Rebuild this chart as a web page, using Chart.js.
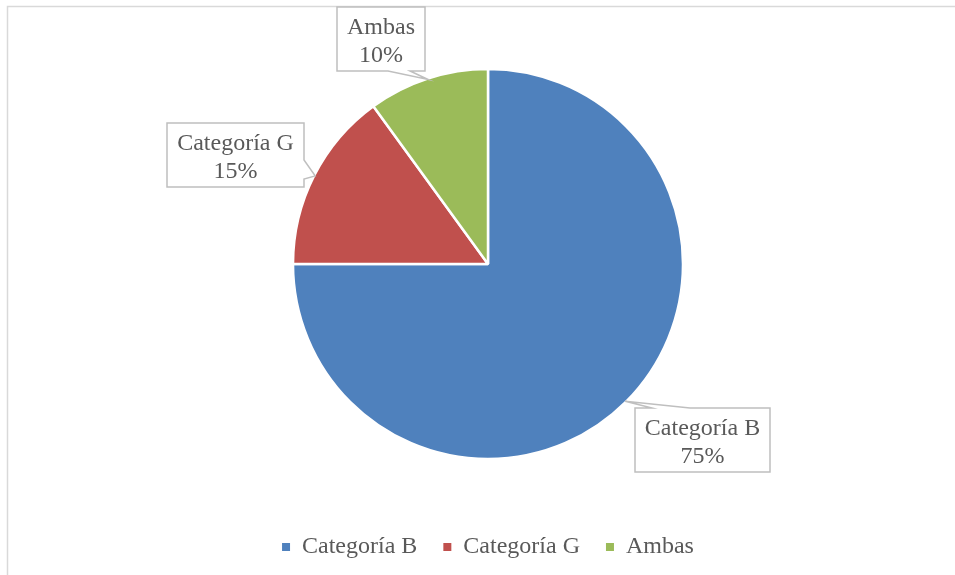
<!DOCTYPE html>
<html>
<head>
<meta charset="utf-8">
<script src="https://cdn.jsdelivr.net/npm/chart.js@4"></script>
<style>
  html, body { margin: 0; padding: 0; background: #fff; }
  #wrap { width: 955px; height: 575px; }
</style>
</head>
<body>
<div id="wrap"><canvas id="pieChart" width="955" height="575"></canvas></div>
<script>
const categories = ["Categoría B", "Categoría G", "Ambas"];
const shares = [75, 15, 10];
const sliceColors = ["#4F81BD", "#C0504D", "#9BBB59"];

const FONT = "'Liberation Serif', 'Times New Roman', serif";
const TEXT_COLOR = "#595959";

// callout box placement: top-left corner, which edge the pointer leaves from, and the base span on that edge
const callouts = [
  { x: 635, y: 408, edge: "top", a: 652, b: 690 },
  { x: 167, y: 123, edge: "right", a: 160, b: 179 },
  { x: 337, y: 7, edge: "bottom", a: 388, b: 410 },
];

const frame = {
  id: "frame",
  beforeDraw(chart) {
    const ctx = chart.ctx;
    ctx.save();
    ctx.strokeStyle = "#d9d9d9";
    ctx.lineWidth = 1.5;
    ctx.beginPath();
    ctx.moveTo(7.5, 600);
    ctx.lineTo(7.5, 6.5);
    ctx.lineTo(960, 6.5);
    ctx.stroke();
    ctx.restore();
  },
};

const calloutLabels = {
  id: "calloutLabels",
  afterDatasetsDraw(chart) {
    const ctx = chart.ctx;
    const arcs = chart.getDatasetMeta(0).data;
    ctx.save();
    ctx.font = "24px " + FONT;
    arcs.forEach((arc, i) => {
      const p = arc.getProps(["x", "y", "startAngle", "endAngle", "outerRadius"], true);
      const mid = (p.startAngle + p.endAngle) / 2;
      const tx = p.x + (p.outerRadius - 1) * Math.cos(mid);
      const ty = p.y + (p.outerRadius - 1) * Math.sin(mid);
      const line1 = categories[i];
      const line2 = shares[i] + "%";
      const w = Math.round(ctx.measureText(line1).width) + 20;
      const h = 64;
      const c = callouts[i];
      const L = c.x, T = c.y, R = c.x + w, B = c.y + h;
      ctx.beginPath();
      ctx.moveTo(L, T);
      if (c.edge === "top") {
        ctx.lineTo(c.a, T); ctx.lineTo(tx, ty); ctx.lineTo(c.b, T);
      }
      ctx.lineTo(R, T);
      if (c.edge === "right") {
        ctx.lineTo(R, c.a); ctx.lineTo(tx, ty); ctx.lineTo(R, c.b);
      }
      ctx.lineTo(R, B);
      if (c.edge === "bottom") {
        ctx.lineTo(c.b, B); ctx.lineTo(tx, ty); ctx.lineTo(c.a, B);
      }
      ctx.lineTo(L, B);
      ctx.closePath();
      ctx.fillStyle = "#ffffff";
      ctx.fill();
      ctx.strokeStyle = "#bfbfbf";
      ctx.lineWidth = 1.5;
      ctx.stroke();
      ctx.fillStyle = TEXT_COLOR;
      ctx.textAlign = "center";
      ctx.textBaseline = "alphabetic";
      ctx.fillText(line1, (L + R) / 2, T + 27);
      ctx.fillText(line2, (L + R) / 2, T + 55);
    });
    ctx.restore();
  },
};

const pieLegendLabels = Chart.overrides.pie.plugins.legend.labels.generateLabels;

new Chart(document.getElementById("pieChart").getContext("2d"), {
  type: "pie",
  data: {
    labels: categories,
    datasets: [
      {
        data: shares,
        backgroundColor: sliceColors,
        borderColor: "#ffffff",
        borderWidth: 2.5,
        radius: 195,
      },
    ],
  },
  options: {
    responsive: false,
    animation: false,
    layout: { padding: { top: 19, bottom: 6, left: 21, right: 0 } },
    plugins: {
      tooltip: { enabled: false },
      legend: {
        position: "bottom",
        labels: {
          boxWidth: 8,
          boxHeight: 8,
          padding: 26,
          color: TEXT_COLOR,
          font: { family: FONT, size: 24 },
          generateLabels(chart) {
            // plain filled squares, no white outline
            return pieLegendLabels(chart).map((item) => ({ ...item, lineWidth: 0 }));
          },
        },
      },
    },
  },
  plugins: [frame, calloutLabels],
});
</script>
</body>
</html>
